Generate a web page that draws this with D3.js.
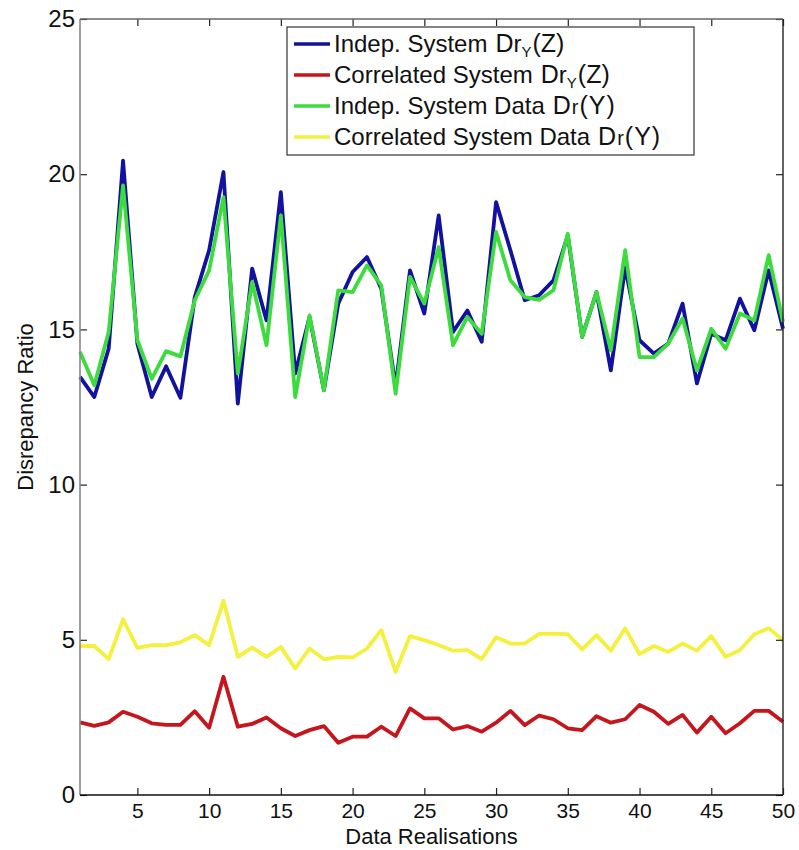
<!DOCTYPE html>
<html><head><meta charset="utf-8">
<script src="https://cdn.jsdelivr.net/npm/d3@7"></script>
<style>body{margin:0;background:#fff}text{font-family:"Liberation Sans",Arial,sans-serif}</style>
</head><body><svg id="c" width="799" height="850"></svg>
<script>
const realisations = d3.range(1, 51);
const indepDrYZ = [13.47,12.82,14.38,20.44,14.54,12.82,13.81,12.8,16.04,17.55,20.07,12.61,16.96,15.29,19.42,13.58,15.4,13.04,15.83,16.85,17.33,16.31,13.15,16.9,15.51,18.67,14.92,15.61,14.6,19.1,17.55,15.94,16.1,16.58,18.03,14.76,16.2,13.68,17.0,14.65,14.22,14.54,15.83,13.26,14.86,14.65,15.99,14.97,16.9,15.02];
const corrDrYZ = [2.34,2.23,2.34,2.68,2.52,2.31,2.26,2.26,2.7,2.17,3.81,2.2,2.29,2.5,2.15,1.9,2.09,2.22,1.68,1.88,1.88,2.2,1.9,2.79,2.47,2.47,2.11,2.22,2.04,2.33,2.71,2.25,2.56,2.44,2.15,2.09,2.54,2.33,2.44,2.9,2.68,2.29,2.58,2.01,2.52,1.99,2.31,2.71,2.71,2.36];
const indepDataDrY = [14.27,13.2,14.92,19.64,14.65,13.41,14.3,14.13,15.94,16.9,19.26,13.58,16.53,14.49,18.67,12.82,15.45,13.04,16.26,16.2,17.06,16.42,12.93,16.69,15.83,17.65,14.49,15.4,14.86,18.14,16.58,16.04,15.95,16.26,18.08,14.76,16.2,14.33,17.55,14.11,14.11,14.54,15.35,13.68,15.02,14.38,15.51,15.29,17.39,15.24];
const corrDataDrY = [4.8,4.8,4.38,5.66,4.74,4.83,4.83,4.92,5.15,4.83,6.26,4.45,4.75,4.45,4.77,4.08,4.72,4.37,4.45,4.43,4.72,5.31,3.97,5.12,4.99,4.83,4.65,4.67,4.38,5.08,4.88,4.88,5.19,5.2,5.18,4.69,5.15,4.65,5.37,4.54,4.8,4.61,4.88,4.65,5.12,4.45,4.67,5.18,5.37,4.99];
const xTicks = [5,10,15,20,25,30,35,40,45,50];
const yTicks = [0,5,10,15,20,25];
const series = [
  {name:"Indep. System", sym:"Dr", sub:"Y", tail:"(Z)", values:indepDrYZ, color:"#12129e"},
  {name:"Correlated System", sym:"Dr", sub:"Y", tail:"(Z)", values:corrDrYZ, color:"#c4161c"},
  {name:"Indep. System Data", sym:"Dr", sub:null, tail:"(Y)", values:indepDataDrY, color:"#3ddc3d"},
  {name:"Correlated System Data", sym:"Dr", sub:null, tail:"(Y)", values:corrDataDrY, color:"#f3f03e"}
];

const svg = d3.select("#c");
const L=80, R=783, T=19, B=795;
const x = d3.scaleLinear().domain([1,50]).range([L,R]);
const y = d3.scaleLinear().domain([0,25]).range([B,T]);

// lines
const line = d3.line().x((d,i)=>x(realisations[i])).y(d=>y(d));
series.forEach(s=>{
  svg.append("path").attr("d", line(s.values)).attr("fill","none")
    .attr("stroke", s.color).attr("stroke-width", 3.8).attr("stroke-linejoin","round");
});

// axes
const ax = svg.append("g");
ax.append("g").attr("transform",`translate(0,${B})`)
  .call(d3.axisBottom(x).tickValues(xTicks).tickSize(-7).tickPadding(8).tickFormat(d3.format("d")))
  .call(g=>g.select(".domain").remove())
  .selectAll(".tick text").attr("font-size",21);
ax.append("g").attr("transform",`translate(0,${T})`)
  .call(d3.axisTop(x).tickValues(xTicks).tickSize(-7).tickFormat(""))
  .call(g=>g.select(".domain").remove());
ax.append("g").attr("transform",`translate(${L},0)`)
  .call(d3.axisLeft(y).tickValues(yTicks).tickSize(-7).tickPadding(5).tickFormat(d3.format("d")))
  .call(g=>g.select(".domain").remove())
  .selectAll(".tick text").attr("font-size",24);
ax.append("g").attr("transform",`translate(${R},0)`)
  .call(d3.axisRight(y).tickValues(yTicks).tickSize(-7).tickFormat(""))
  .call(g=>g.select(".domain").remove());
ax.selectAll(".tick line").attr("stroke","#222").attr("stroke-width",1.2);
ax.selectAll(".tick text").attr("fill","#111").attr("font-family","'Liberation Sans',Arial,sans-serif");
// frame
svg.append("line").attr("x1",L).attr("x2",L).attr("y1",T).attr("y2",B).attr("stroke","#888").attr("stroke-width",1.6);
svg.append("line").attr("x1",L).attr("x2",R).attr("y1",B).attr("y2",B).attr("stroke","#111").attr("stroke-width",1.6);
svg.append("line").attr("x1",R).attr("x2",R).attr("y1",T).attr("y2",B).attr("stroke","#222").attr("stroke-width",1.4);
svg.append("line").attr("x1",L).attr("x2",R).attr("y1",T).attr("y2",T).attr("stroke","#666").attr("stroke-width",1.4);

// axis titles
svg.append("text").attr("x",(L+R)/2).attr("y",844).attr("text-anchor","middle")
  .attr("font-size",22).attr("fill","#111").text("Data Realisations");
svg.append("text").attr("transform",`translate(33,${(T+B)/2}) rotate(-90)`).attr("text-anchor","middle")
  .attr("font-size",22).attr("fill","#111").text("Disrepancy Ratio");

// legend
const lg = svg.append("g");
lg.append("rect").attr("x",287).attr("y",27).attr("width",407).attr("height",128)
  .attr("fill","#fff").attr("stroke","#333").attr("stroke-width",1.2);
const rowY = [44,75,106,137];
series.forEach((s,i)=>{
  const yy = rowY[i];
  lg.append("line").attr("x1",294).attr("x2",330).attr("y1",yy).attr("y2",yy)
    .attr("stroke",s.color).attr("stroke-width",3.5);
  const t = lg.append("text").attr("x",334).attr("y",yy+8).attr("font-size",24).attr("fill","#111");
  t.append("tspan").text(s.name);
  t.append("tspan").attr("dx",8).attr("font-size",25).text("D");
  if (s.sub) {
    t.append("tspan").attr("font-size",24).text("r");
    t.append("tspan").attr("font-size",15).attr("dy",5).text(s.sub);
    t.append("tspan").attr("font-size",25).attr("dy",-5).attr("dx",1).text(s.tail);
  } else {
    t.append("tspan").attr("font-size",20).attr("dx",1).text("r");
    t.append("tspan").attr("font-size",25).attr("dx",1).attr("letter-spacing",1).text(s.tail);
  }
});
</script></body></html>
